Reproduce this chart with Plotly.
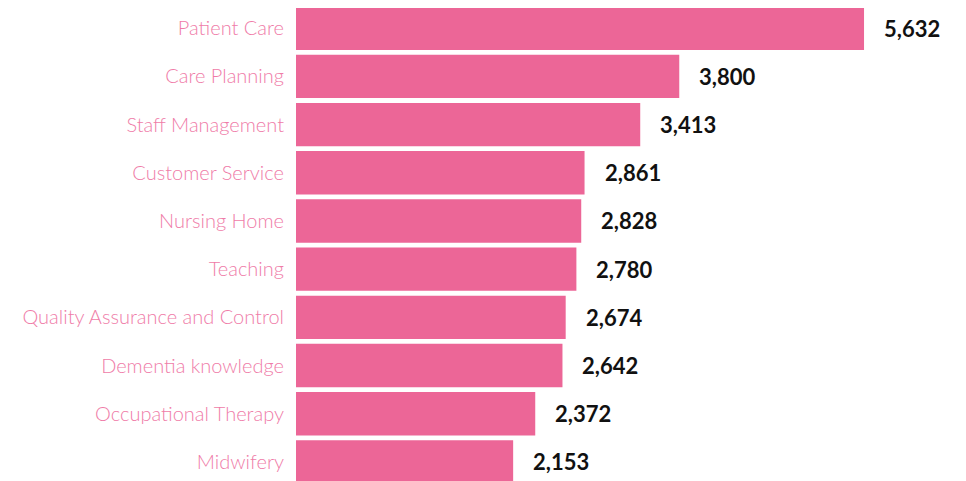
import plotly.graph_objects as go

categories = ["Patient Care", "Care Planning", "Staff Management", "Customer Service",
              "Nursing Home", "Teaching", "Quality Assurance and Control",
              "Dementia knowledge", "Occupational Therapy", "Midwifery"]
values = [5632, 3800, 3413, 2861, 2828, 2780, 2674, 2642, 2372, 2153]

bar_color = "#EC6697"
label_color = "#EF7CA8"

fig = go.Figure(go.Bar(
    x=values, y=categories, orientation="h",
    marker=dict(color=bar_color, line=dict(width=0)),
    hoverinfo="skip",
))

for c, v in zip(categories, values):
    fig.add_annotation(x=v, y=c, text=f"{v:,}", showarrow=False,
                       xanchor="left", xshift=18,
                       font=dict(family="Lato", size=22, color="#111111", weight=700))

# page body has an 8px margin, so the figure is sized/offset to compensate
fig.update_layout(
    width=958, height=478,
    margin=dict(l=288, r=0, t=0, b=0, autoexpand=False),
    paper_bgcolor="white", plot_bgcolor="white",
    bargap=0.10, showlegend=False,
)
fig.update_xaxes(range=[0, 6643], visible=False, automargin=False)
fig.update_yaxes(range=[9.5, -0.42], showgrid=False, showline=False, zeroline=False,
                 ticks="", ticklabelstandoff=11, automargin=False,
                 tickfont=dict(family="Lato", size=20, color=label_color, weight=300))

fig.write_html("out.html")
